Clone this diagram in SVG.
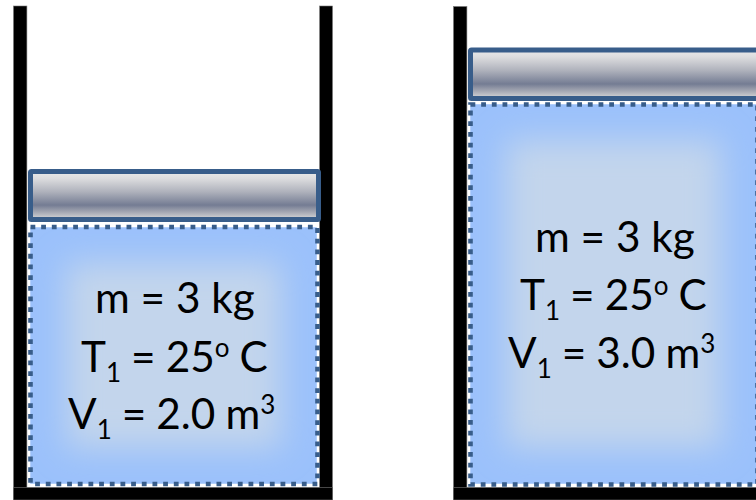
<svg xmlns="http://www.w3.org/2000/svg" width="756" height="500" viewBox="0 0 756 500">
<style>
.wall{fill:#000;stroke:#777;stroke-width:.6}
.piston{fill:url(#metal);stroke:#385D8A;stroke-width:5;stroke-linejoin:round}
.base{fill:#9BC1FB}
.core{fill:#C3D5EC;filter:url(#soft)}
.edge{fill:none;stroke:#fff;stroke-width:1.5}
.dash{fill:none;stroke:#385D8A;stroke-width:4.6;stroke-dasharray:4.8 5.87}
.t{font-family:Lato,"Open Sans",sans-serif;font-size:42.3px;fill:#000}
.s{font-size:26px}
</style>
<defs>
<linearGradient id="metal" x1="0" y1="0" x2="0" y2="1">
<stop offset="0" stop-color="#EAEAEA"/><stop offset=".15" stop-color="#DCDCDE"/><stop offset=".42" stop-color="#AFB2BC"/><stop offset=".7" stop-color="#747C93"/><stop offset=".85" stop-color="#A6A9B4"/><stop offset="1" stop-color="#DADADA"/>
</linearGradient>
<filter id="soft" filterUnits="userSpaceOnUse" x="0" y="0" width="756" height="500"><feGaussianBlur stdDeviation="16"/></filter>
<clipPath id="c1"><rect x="30" y="227" width="287" height="257"/></clipPath>
<clipPath id="c2"><rect x="470" y="104" width="287" height="380"/></clipPath>
</defs>
<rect width="756" height="500" fill="#fff"/>
<g id="cylinder-left">
<rect class="wall" x="13.5" y="6" width="13.4" height="494"/>
<rect class="wall" x="319.6" y="6" width="12.9" height="494"/>
<rect class="wall" x="13.5" y="487.3" width="319" height="12.7"/>
</g>
<g id="gas-left">
<rect class="base" x="30" y="227" width="287" height="257"/>
<g clip-path="url(#c1)"><rect class="core" x="66" y="263" width="215" height="185"/></g>
<rect class="edge" x="29.5" y="226.500" width="288" height="258"/>
<rect class="dash" x="30.500" y="227" width="287" height="257"/>
<text class="t" x="95" y="313">m = 3 kg</text>
<text class="t" x="81" y="372" word-spacing="-0.8">T<tspan class="s" dy="10">1</tspan><tspan dy="-10"> = 25</tspan><tspan class="s" dy="-15">o</tspan><tspan dy="15"> C</tspan></text>
<text class="t" x="68" y="429" word-spacing="-0.8">V<tspan class="s" dy="10">1</tspan><tspan dy="-10"> = 2.0 m</tspan><tspan class="s" dy="-15">3</tspan></text>
</g>
<g id="piston-left">
<rect class="piston" x="30.5" y="171.5" width="288" height="48" rx="1"/>
</g>
<g id="cylinder-right">
<rect class="wall" x="453.5" y="6.500" width="13.4" height="493.500"/>
<rect class="wall" x="453.5" y="487.3" width="303" height="12.7"/>
</g>
<g id="gas-right">
<rect class="base" x="470" y="104" width="287" height="380"/>
<g clip-path="url(#c2)"><rect class="core" x="506" y="140" width="215" height="308"/></g>
<rect class="edge" x="469.500" y="103.500" width="288" height="381"/>
<rect class="dash" x="470.500" y="104.500" width="287" height="380"/>
<text class="t" x="535" y="252">m = 3 kg</text>
<text class="t" x="520" y="310" word-spacing="-0.8">T<tspan class="s" dy="10">1</tspan><tspan dy="-10"> = 25</tspan><tspan class="s" dy="-15">o</tspan><tspan dy="15"> C</tspan></text>
<text class="t" x="508" y="368" word-spacing="-0.8">V<tspan class="s" dy="10">1</tspan><tspan dy="-10"> = 3.0 m</tspan><tspan class="s" dy="-15">3</tspan></text>
</g>
<g id="piston-right">
<rect class="piston" x="470.500" y="50" width="288" height="48.500" rx="1"/>
</g>
</svg>
